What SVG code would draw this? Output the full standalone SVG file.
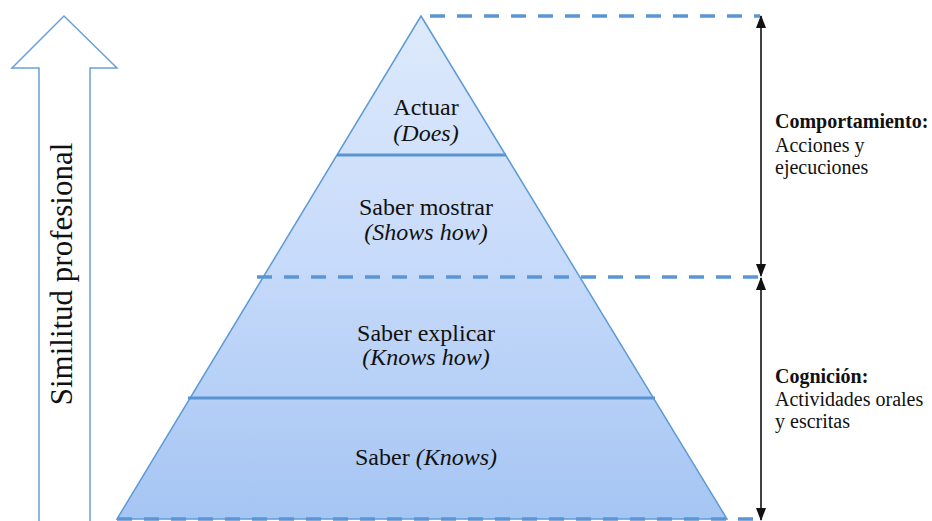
<svg xmlns="http://www.w3.org/2000/svg" width="932" height="521" viewBox="0 0 932 521">
  <defs>
    <linearGradient id="pyrFill" gradientUnits="userSpaceOnUse" x1="0" y1="16" x2="0" y2="519">
      <stop offset="0" stop-color="#deeafc"/>
      <stop offset="0.5" stop-color="#c6dafa"/>
      <stop offset="1" stop-color="#a5c5f3"/>
    </linearGradient>
    <marker id="arrowHead" viewBox="0 0 13 10" markerWidth="13" markerHeight="10" refX="12" refY="5" orient="auto-start-reverse" markerUnits="userSpaceOnUse">
      <path d="M0,0 L13,5 L0,10 z" fill="#111"/>
    </marker>
  </defs>
  <style>
    .lvl { font-family: "Liberation Serif", "Times New Roman", serif; font-size: 24px; fill: #111; text-anchor: middle; }
    .it { font-style: italic; }
    .side { font-family: "Liberation Serif", "Times New Roman", serif; font-size: 20px; fill: #111; }
    .b { font-weight: bold; }
    .divider { stroke: #5a93d3; stroke-width: 3; }
    .dash { stroke: #5b95d5; stroke-width: 3.5; stroke-dasharray: 15 12; fill: none; }
    .dim { stroke: #111; stroke-width: 1.6; fill: none; marker-start: url(#arrowHead); marker-end: url(#arrowHead); }
  </style>

  <rect width="932" height="521" fill="#ffffff"/>

  <g id="similitud-arrow">
    <polygon points="64,16 117,68 90,68 90,523 39,523 39,68 12,68" fill="#ffffff" stroke="#6aa0d9" stroke-width="1.5"/>
    <text transform="translate(72,274) rotate(-90)" font-family="'Liberation Serif', 'Times New Roman', serif" font-size="31" fill="#111" text-anchor="middle">Similitud profesional</text>
  </g>

  <g id="pyramid">
    <polygon points="421,16 727,519 117,519" fill="url(#pyrFill)" stroke="#5d9ad6" stroke-width="1.5"/>
    <line class="divider" x1="337" y1="155" x2="506" y2="155"/>
    <line class="divider" x1="188" y1="398" x2="655" y2="398"/>
  </g>

  <g id="level-actuar">
    <text class="lvl" x="426" y="115">Actuar</text>
    <text class="lvl it" x="426" y="141">(Does)</text>
  </g>
  <g id="level-saber-mostrar">
    <text class="lvl" x="426" y="215">Saber mostrar</text>
    <text class="lvl it" x="426" y="240">(Shows how)</text>
  </g>
  <g id="level-saber-explicar">
    <text class="lvl" x="426" y="341">Saber explicar</text>
    <text class="lvl it" x="426" y="365">(Knows how)</text>
  </g>
  <g id="level-saber">
    <text class="lvl" x="426" y="465">Saber <tspan class="it">(Knows)</tspan></text>
  </g>

  <g id="connectors">
    <line class="dash" x1="430" y1="16" x2="760" y2="16"/>
    <line class="dash" x1="257" y1="277" x2="760" y2="277"/>
    <line class="dash" x1="117" y1="519" x2="760" y2="519"/>
    <line class="dim" x1="761" y1="16" x2="761" y2="276"/>
    <line class="dim" x1="761" y1="278" x2="761" y2="520"/>
  </g>

  <g id="label-comportamiento">
    <text class="side b" x="775" y="128">Comportamiento:</text>
    <text class="side" x="775" y="152">Acciones y</text>
    <text class="side" x="775" y="174">ejecuciones</text>
  </g>
  <g id="label-cognicion">
    <text class="side b" x="775" y="383">Cognición:</text>
    <text class="side" x="775" y="406">Actividades orales</text>
    <text class="side" x="775" y="428">y escritas</text>
  </g>
</svg>
